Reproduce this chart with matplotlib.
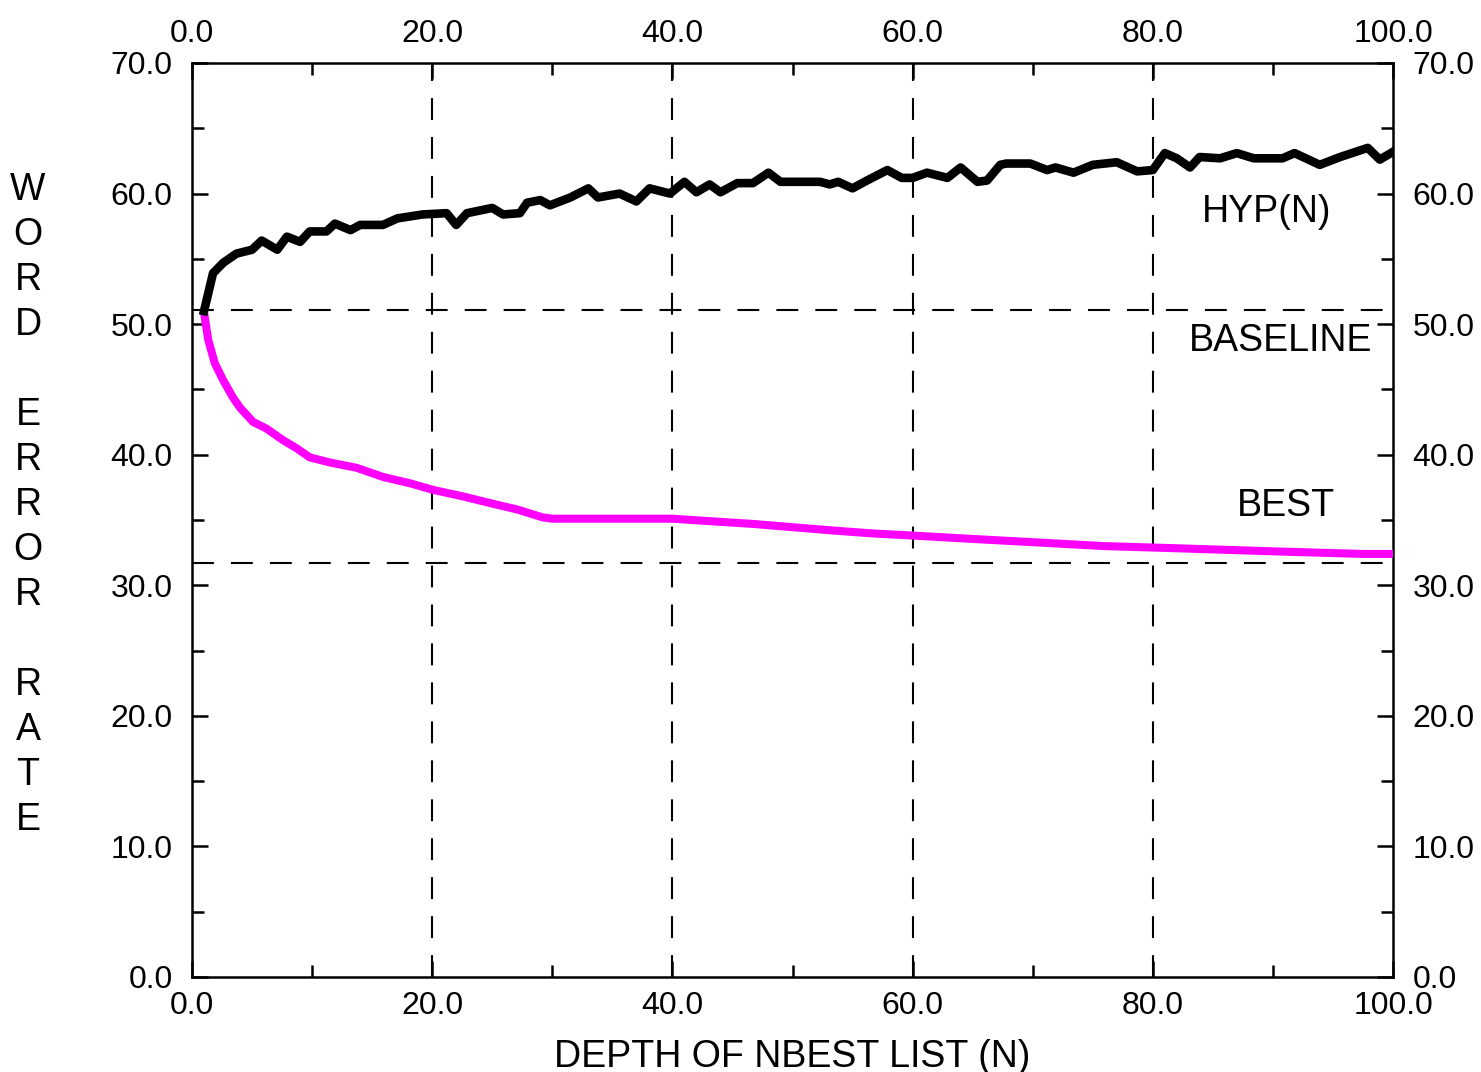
import numpy as np
import matplotlib.pyplot as plt
from matplotlib.ticker import MultipleLocator, FormatStrFormatter

plt.rcParams['font.family'] = ['Liberation Sans', 'DejaVu Sans']

# HYP(N) curve
hyp_n = [1, 1.75, 2.6, 3.7, 5, 5.8, 7.1, 7.9, 9, 9.8, 11.2, 11.9, 13.2, 14,
         15.9, 17.1, 19.2, 21.2, 22, 22.9, 25, 25.9, 27.3, 27.9, 29, 29.8,
         31.5, 33, 33.8, 35.6, 37, 38.1, 39.8, 41, 42, 43.1, 44, 45.4, 46.7,
         48, 49, 52.3, 53.1, 53.8, 55, 56.2, 57.9, 59.1, 60, 61.2, 62.9, 64,
         65.4, 66.2, 67.3, 67.8, 69.8, 71.2, 71.9, 73.4, 75, 77, 78.7, 80,
         81, 82, 83.1, 83.9, 85.6, 87, 88.4, 90.8, 91.8, 93.9, 95.6, 97.9,
         98.9, 100]
hyp_wer = [51.0, 53.9, 54.7, 55.4, 55.7, 56.4, 55.7, 56.7, 56.3, 57.1, 57.1,
           57.7, 57.2, 57.6, 57.6, 58.1, 58.4, 58.5, 57.6, 58.5, 58.9, 58.4,
           58.5, 59.3, 59.5, 59.1, 59.7, 60.4, 59.7, 60.0, 59.4, 60.4, 60.0,
           60.9, 60.1, 60.7, 60.1, 60.8, 60.8, 61.6, 60.9, 60.9, 60.7, 60.9,
           60.4, 61.0, 61.8, 61.2, 61.2, 61.6, 61.2, 62.0, 60.9, 61.0, 62.2,
           62.3, 62.3, 61.8, 62.0, 61.6, 62.2, 62.4, 61.7, 61.8, 63.1, 62.7,
           62.0, 62.8, 62.7, 63.1, 62.7, 62.7, 63.1, 62.2, 62.8, 63.5, 62.6,
           63.2]

# BEST curve
best_n = [1, 1.35, 1.9, 2.6, 3.4, 4, 5.1, 6.2, 7.6, 8.7, 9.8, 11.5, 13.7,
          15.9, 18.2, 20.1, 22.6, 24.8, 27.1, 29.2, 30, 40, 43.3, 46.7, 50,
          53.3, 56.7, 60.2, 64, 68, 72, 76, 81.5, 90, 97.5, 100]
best_wer = [50.9, 48.8, 47.0, 45.7, 44.4, 43.6, 42.5, 42.0, 41.1, 40.5, 39.8,
            39.4, 39.0, 38.3, 37.8, 37.3, 36.8, 36.3, 35.8, 35.2, 35.1, 35.1,
            34.9, 34.7, 34.45, 34.2, 33.97, 33.8, 33.6, 33.4, 33.2, 33.0,
            32.85, 32.6, 32.4, 32.4]

baseline_wer = 51.1
best_ref_wer = 31.7
grid_x = [20, 40, 60, 80]

fig = plt.figure(figsize=(14.81, 10.72), dpi=100)
ax = fig.add_axes([192/1481, 95/1072, 1201/1481, 914/1072])

dash = (0, (10.5, 8.2))
for gx in grid_x:
    ax.axvline(gx, color='black', lw=1.5, linestyle=dash, zorder=1)
ax.axhline(baseline_wer, color='black', lw=1.5, linestyle=dash, zorder=1)
ax.axhline(best_ref_wer, color='black', lw=1.5, linestyle=dash, zorder=1)

ax.plot(best_n, best_wer, color='#ff00ff', lw=5.8, solid_capstyle='butt', zorder=3)
ax.plot(hyp_n, hyp_wer, color='black', lw=6.2, solid_joinstyle='round', zorder=4)

ax.text(89.5, 58.6, 'HYP(N)', fontsize=27, ha='center', va='center')
ax.text(90.6, 48.7, 'BASELINE', fontsize=27, ha='center', va='center')
ax.text(91.1, 36.1, 'BEST', fontsize=27, ha='center', va='center')

ax.set_xlim(0, 100)
ax.set_ylim(0, 70)
ax.xaxis.set_major_locator(MultipleLocator(20))
ax.xaxis.set_minor_locator(MultipleLocator(10))
ax.yaxis.set_major_locator(MultipleLocator(10))
ax.yaxis.set_minor_locator(MultipleLocator(5))
ax.xaxis.set_major_formatter(FormatStrFormatter('%.1f'))
ax.yaxis.set_major_formatter(FormatStrFormatter('%.1f'))
ax.tick_params(which='both', direction='in', top=True, right=True,
               labeltop=True, labelright=True, width=1.8, labelsize=23)
ax.tick_params(which='major', length=11.5)
ax.tick_params(which='minor', length=8.6)
ax.tick_params(axis='y', which='major', pad=14)
ax.tick_params(axis='x', which='major', pad=10)
for s in ax.spines.values():
    s.set_linewidth(1.8)

ax.set_xlabel('DEPTH OF NBEST LIST (N)', fontsize=27, labelpad=13)
ylab = '\n'.join(list('WORD ERROR RATE'))
fig.text(28/1481, 1 - 505/1072, ylab, fontsize=27, ha='center', va='center',
         linespacing=1.32)

fig.savefig('out.png', dpi=100)
